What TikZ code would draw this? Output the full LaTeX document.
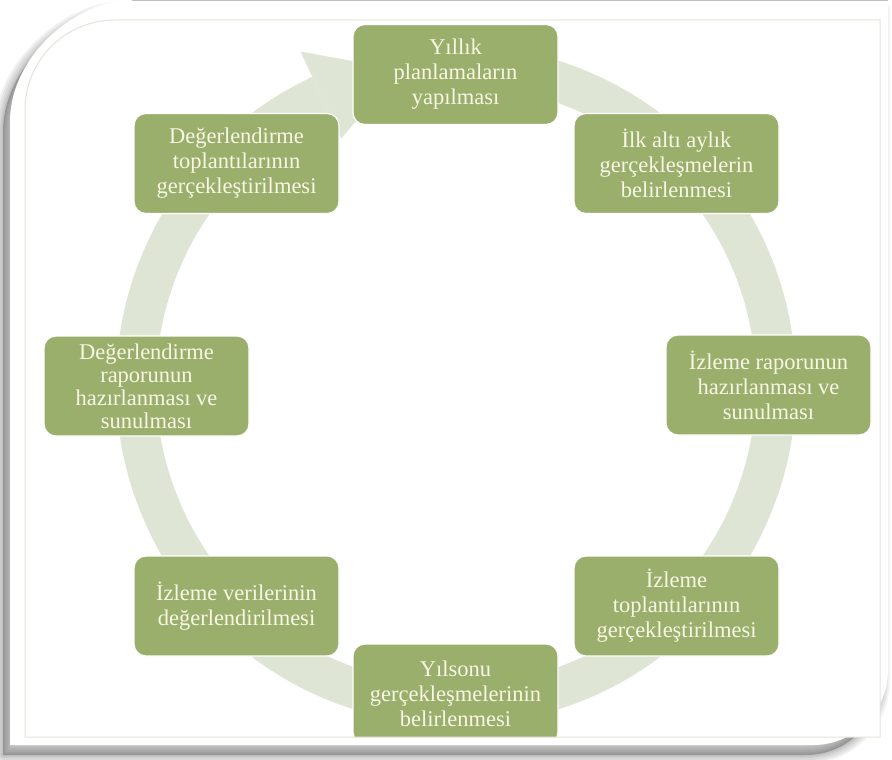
\documentclass[tikz,border=0pt]{standalone}
\usepackage{fontspec}
\setmainfont{Liberation Serif}
\definecolor{boxgreen}{HTML}{9BAF6D}
\definecolor{bandgreen}{HTML}{DFE5D4}
\definecolor{txtcream}{HTML}{F8F6E4}
\definecolor{innerline}{HTML}{E4E4DA}
\tikzset{
  stage/.style={draw=white, line width=1.2pt, fill=boxgreen, rounded corners=12pt,
    text=txtcream, align=center, minimum width=205pt, minimum height=100pt,
    inner sep=2pt, font=\fontsize{22.5}{25}\selectfont},
  stagefour/.style={stage, font=\fontsize{22.5}{23}\selectfont},
}
\begin{document}
\begin{tikzpicture}[x=1pt,y=-1pt]
\useasboundingbox (0,0) rectangle (892,760);
\fill[white] (0,0) rectangle (892,760);
% shadow of the frame
\begin{scope}[shift={(-7,10)}]
  \fill[black!22] (10,745) -- (10,122) .. controls (10,54.6) and (77.4,0) .. (132,0) -- (888,0) -- (888,670) .. controls (888,711.4) and (854.4,745) .. (813,745) -- cycle;
  \foreach \w in {18,14,10,6,3}{
    \draw[black, opacity=0.05, line width=\w pt, line join=round] (10,745) -- (10,122) .. controls (10,54.6) and (77.4,0) .. (132,0) -- (888,0) -- (888,670) .. controls (888,711.4) and (854.4,745) .. (813,745) -- cycle;
  }
\end{scope}
% white frame
\fill[white] (10,745) -- (10,122) .. controls (10,54.6) and (77.4,0) .. (132,0) -- (888,0) -- (888,670) .. controls (888,711.4) and (854.4,745) .. (813,745) -- cycle;
\draw[black!25, line width=1.5pt] (132,0.7) -- (888,0.7);
% inner picture
\fill[white] (25,737) -- (25,110) .. controls (25,60.3) and (65.3,20) .. (115,20) -- (880,20) -- (880,737) -- cycle;
\begin{scope}
\clip (25,737) -- (25,110) .. controls (25,60.3) and (65.3,20) .. (115,20) -- (880,20) -- (880,737) -- cycle;
% circular band with arrow head
\begin{scope}[shift={(456,385)}, yscale=-1]
  \fill[bandgreen] (95:340) arc[start angle=95, end angle=-245, radius=340] -- (-245:300) arc[start angle=-245, end angle=95, radius=300] -- cycle;
  \fill[bandgreen] (115:272) -- (115:368) -- (100:320) -- cycle;
\end{scope}
% stages
\node[stage] (b1) at (455.5,74.5) {Yıllık\\planlamaların\\yapılması};
\node[stage] (b2) at (676.5,163.5) {İlk altı aylık\\gerçekleşmelerin\\belirlenmesi};
\node[stage] (b3) at (768.5,385) {İzleme raporunun\\hazırlanması ve\\sunulması};
\node[stage] (b4) at (676.5,606) {İzleme\\toplantılarının\\gerçekleştirilmesi};
\node[stage] (b5) at (455.5,694) {Yılsonu\\gerçekleşmelerinin\\belirlenmesi};
\node[stage] (b6) at (236.5,606) {İzleme verilerinin\\değerlendirilmesi};
\node[stagefour] (b7) at (146.5,386) {Değerlendirme\\raporunun\\hazırlanması ve\\sunulması};
\node[stage] (b8) at (236.5,163.5) {Değerlendirme\\toplantılarının\\gerçekleştirilmesi};
\end{scope}
\draw[innerline, line width=1pt] (25,737) -- (25,110) .. controls (25,60.3) and (65.3,20) .. (115,20) -- (880,20) -- (880,737) -- cycle;
\end{tikzpicture}
\end{document}
